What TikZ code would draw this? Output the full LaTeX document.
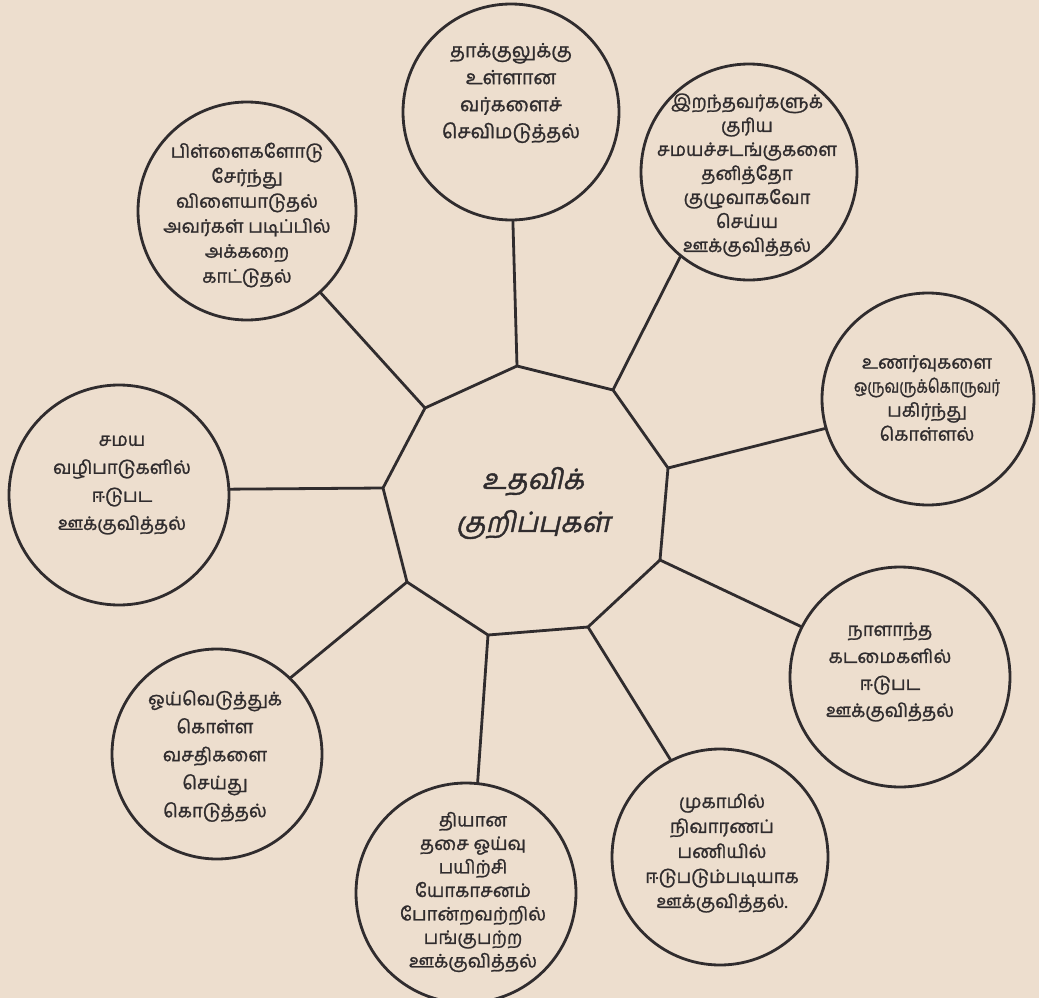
\documentclass[tikz,border=0pt]{standalone}
\usepackage{fontspec}
\usepackage{graphicx}
\newfontfamily\tam[Script=Tamil,FakeBold=1.2]{Hind Madurai}
\newfontfamily\tamsl[Script=Tamil,FakeSlant=0.22,FakeBold=1.4]{Hind Madurai}
\definecolor{paper}{RGB}{237,222,206}
\definecolor{ink}{RGB}{48,44,46}
\tikzset{
  circ/.style={circle, draw=ink, line width=2.8pt, inner sep=0pt},
  spoke/.style={draw=ink, line width=2.8pt, line cap=round},
  lbl/.style={text=ink, align=center, font=\tam\fontsize{18.5}{25}\selectfont, inner sep=0pt},
}
\begin{document}
\begin{tikzpicture}[x=1pt,y=-1pt]
\useasboundingbox (0,0) rectangle (1039,998);
\fill[paper] (0,0) rectangle (1039,998);
% central nonagon
\coordinate (v1) at (517,366);
\coordinate (v2) at (613,390);
\coordinate (v3) at (668,468);
\coordinate (v4) at (660,560);
\coordinate (v5) at (588,627);
\coordinate (v6) at (488,635);
\coordinate (v7) at (407,582);
\coordinate (v8) at (383,488);
\coordinate (v9) at (425,408);
\draw[spoke, line join=miter] (v1) -- (v2) -- (v3) -- (v4) -- (v5) -- (v6) -- (v7) -- (v8) -- (v9) -- cycle;
\node[text=ink, align=center, inner sep=0pt, font=\tamsl\fontsize{28}{43}\selectfont] (ctr) at (533,503) {உதவிக்\\குறிப்புகள்};
% circles
\node[circ, minimum size=216pt] (c1) at (511,112) {};
\node[circ, minimum size=216pt] (c2) at (749,172) {};
\node[circ, minimum size=218pt] (c3) at (247,211) {};
\node[circ, minimum size=212pt] (c4) at (928,399) {};
\node[circ, minimum size=220pt] (c5) at (119,495) {};
\node[circ, minimum size=220pt] (c6) at (900,677) {};
\node[circ, minimum size=210pt] (c7) at (217,754) {};
\node[circ, minimum size=220pt] (c8) at (466,893) {};
\node[circ, minimum size=216pt] (c9) at (720,857) {};
% texts
\node[lbl, font=\tam\fontsize{19.5}{27}\selectfont] (t1) at (511,93) {தாக்குலுக்கு\\உள்ளான\\வர்களைச்\\செவிமடுத்தல்};
\node[lbl, font=\tam\fontsize{18.5}{24}\selectfont] (t2) at (747,175) {இறந்தவர்களுக்\\குரிய\\சமயச்சடங்குகளை\\தனித்தோ\\குழுவாகவோ\\செய்ய\\ஊக்குவித்தல்};
\node[lbl] (t3) at (247,215) {பிள்ளைகளோடு\\சேர்ந்து\\விளையாடுதல்\\அவர்கள் படிப்பில்\\அக்கறை\\காட்டுதல்};
\node[lbl, font=\tam\fontsize{18.5}{24}\selectfont] (t4) at (927,398) {உணர்வுகளை\\\scalebox{0.8}[1]{ஒருவருக்கொருவர்}\\பகிர்ந்து\\கொள்ளல்};
\node[lbl, font=\tam\fontsize{18.5}{28}\selectfont] (t5) at (122,485) {சமய\\வழிபாடுகளில்\\ஈடுபட\\ஊக்குவித்தல்};
\node[lbl, font=\tam\fontsize{18.5}{27}\selectfont] (t6) at (890,672) {நாளாந்த\\கடமைகளில்\\ஈடுபட\\ஊக்குவித்தல்};
\node[lbl, font=\tam\fontsize{18.5}{28}\selectfont] (t7) at (215,756) {ஓய்வெடுத்துக்\\கொள்ள\\வசதிகளை\\செய்து\\கொடுத்தல்};
\node[lbl, font=\tam\fontsize{18.5}{23.5}\selectfont] (t8) at (473,892) {தியான\\தசை ஓய்வு\\பயிற்சி\\யோகாசனம்\\போன்றவற்றில்\\பங்குபற்ற\\ஊக்குவித்தல்};
\node[lbl] (t9) at (722,853) {முகாமில்\\நிவாரணப்\\பணியில்\\ஈடுபடும்படியாக\\ஊக்குவித்தல்.};
% spokes
\draw[spoke] (v1) -- (c1.271);
\draw[spoke] (v2) -- (c2.231);
\draw[spoke] (v9) -- (c3.312);
\draw[spoke] (v3) -- (c4.196);
\draw[spoke] (v8) -- (c5.3);
\draw[spoke] (v4) -- (c6.153);
\draw[spoke] (v7) -- (c7.46);
\draw[spoke] (v6) -- (c8.84);
\draw[spoke] (v5) -- (c9.117);
\end{tikzpicture}
\end{document}
